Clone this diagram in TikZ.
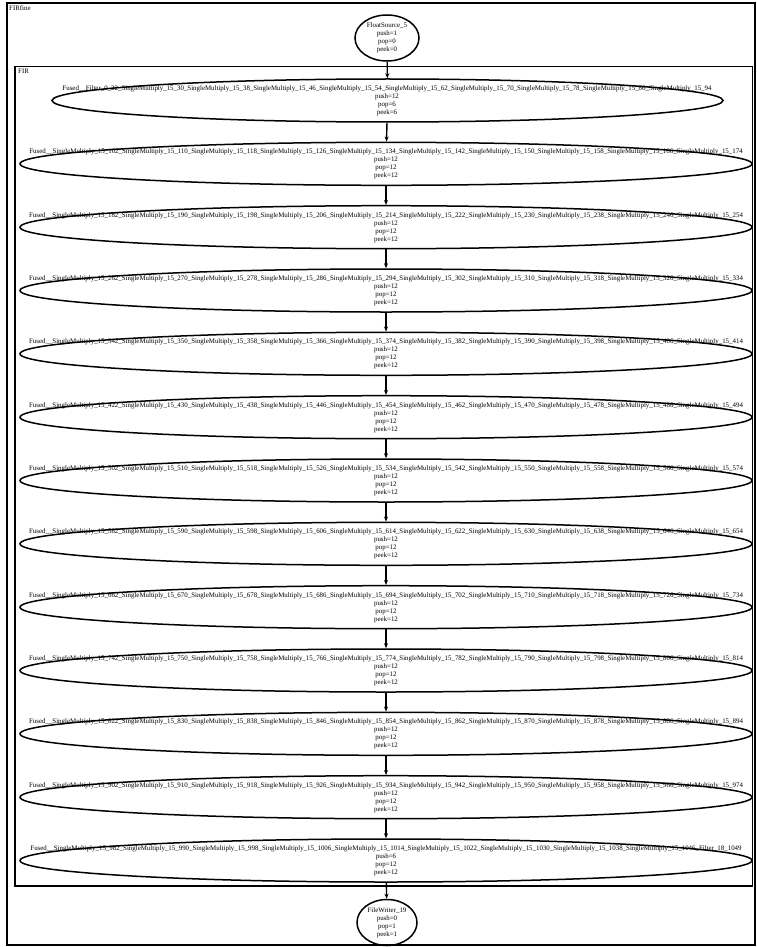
\documentclass[tikz,border=0pt]{standalone}
\usepackage{fontspec}
\setmainfont{Liberation Serif}
\usetikzlibrary{shapes.geometric,arrows.meta}
\newcommand\smx[1]{SingleMultiply\_15\_#1}
\begin{document}
\begin{tikzpicture}[x=1pt,y=-1pt,
  box/.style={draw, line width=1.2pt},
  oval/.style={draw, ellipse, line width=1.5pt, inner sep=0pt, minimum height=43pt, minimum width=732pt},
  lbl/.style={align=center, font=\fontsize{6.9}{8}\selectfont, inner sep=0pt},
  tag/.style={anchor=north west, font=\fontsize{6.9}{8}\selectfont, inner sep=0pt},
  flow/.style={-{Stealth[length=5pt,width=4pt]}, line width=1.4pt}]
\useasboundingbox (0,0) rectangle (756,947);
% clusters
\draw[box] (7,3) rectangle (755,945);
\node[tag] (tfine) at (9,5) {FIRfine};
\draw[box] (15,66.5) rectangle (752.5,886);
\node[tag] (tfir) at (18,69) {FIR};
% source
\node[oval, minimum width=64pt, minimum height=46pt] (src) at (387,38) {};
\node[lbl] (lsrc) at (387,38) {FloatSource\_5\\push=1\\pop=0\\peek=0};
% row 1
\node[oval, minimum width=671pt] (e1) at (387.5,100.5) {};
\node[lbl] at (387,101) {Fused\_\_Filter\_0\_22\_\smx{30}\_\smx{38}\_\smx{46}\_\smx{54}\_\smx{62}\_\smx{70}\_\smx{78}\_\smx{86}\_\smx{94}\\push=12\\pop=6\\peek=6};
% rows 2..12
\node[oval] (e2) at (386,163.8) {};
\node[lbl] at (386,164.3) {Fused\_\_\smx{102}\_\smx{110}\_\smx{118}\_\smx{126}\_\smx{134}\_\smx{142}\_\smx{150}\_\smx{158}\_\smx{166}\_\smx{174}\\push=12\\pop=12\\peek=12};
\node[oval] (e3) at (386,227.2) {};
\node[lbl] at (386,227.7) {Fused\_\_\smx{182}\_\smx{190}\_\smx{198}\_\smx{206}\_\smx{214}\_\smx{222}\_\smx{230}\_\smx{238}\_\smx{246}\_\smx{254}\\push=12\\pop=12\\peek=12};
\node[oval] (e4) at (386,290.5) {};
\node[lbl] at (386,291) {Fused\_\_\smx{262}\_\smx{270}\_\smx{278}\_\smx{286}\_\smx{294}\_\smx{302}\_\smx{310}\_\smx{318}\_\smx{326}\_\smx{334}\\push=12\\pop=12\\peek=12};
\node[oval] (e5) at (386,353.8) {};
\node[lbl] at (386,354.3) {Fused\_\_\smx{342}\_\smx{350}\_\smx{358}\_\smx{366}\_\smx{374}\_\smx{382}\_\smx{390}\_\smx{398}\_\smx{406}\_\smx{414}\\push=12\\pop=12\\peek=12};
\node[oval] (e6) at (386,417.2) {};
\node[lbl] at (386,417.7) {Fused\_\_\smx{422}\_\smx{430}\_\smx{438}\_\smx{446}\_\smx{454}\_\smx{462}\_\smx{470}\_\smx{478}\_\smx{486}\_\smx{494}\\push=12\\pop=12\\peek=12};
\node[oval] (e7) at (386,480.5) {};
\node[lbl] at (386,481) {Fused\_\_\smx{502}\_\smx{510}\_\smx{518}\_\smx{526}\_\smx{534}\_\smx{542}\_\smx{550}\_\smx{558}\_\smx{566}\_\smx{574}\\push=12\\pop=12\\peek=12};
\node[oval] (e8) at (386,543.8) {};
\node[lbl] at (386,544.3) {Fused\_\_\smx{582}\_\smx{590}\_\smx{598}\_\smx{606}\_\smx{614}\_\smx{622}\_\smx{630}\_\smx{638}\_\smx{646}\_\smx{654}\\push=12\\pop=12\\peek=12};
\node[oval] (e9) at (386,607.2) {};
\node[lbl] at (386,607.7) {Fused\_\_\smx{662}\_\smx{670}\_\smx{678}\_\smx{686}\_\smx{694}\_\smx{702}\_\smx{710}\_\smx{718}\_\smx{726}\_\smx{734}\\push=12\\pop=12\\peek=12};
\node[oval] (e10) at (386,670.5) {};
\node[lbl] at (386,671) {Fused\_\_\smx{742}\_\smx{750}\_\smx{758}\_\smx{766}\_\smx{774}\_\smx{782}\_\smx{790}\_\smx{798}\_\smx{806}\_\smx{814}\\push=12\\pop=12\\peek=12};
\node[oval] (e11) at (386,733.8) {};
\node[lbl] at (386,734.3) {Fused\_\_\smx{822}\_\smx{830}\_\smx{838}\_\smx{846}\_\smx{854}\_\smx{862}\_\smx{870}\_\smx{878}\_\smx{886}\_\smx{894}\\push=12\\pop=12\\peek=12};
\node[oval] (e12) at (386,797.2) {};
\node[lbl] at (386,797.7) {Fused\_\_\smx{902}\_\smx{910}\_\smx{918}\_\smx{926}\_\smx{934}\_\smx{942}\_\smx{950}\_\smx{958}\_\smx{966}\_\smx{974}\\push=12\\pop=12\\peek=12};
\node[oval] (e13) at (386,860.5) {};
\node[lbl] at (386,861) {Fused\_\_\smx{982}\_\smx{990}\_\smx{998}\_\smx{1006}\_\smx{1014}\_\smx{1022}\_\smx{1030}\_\smx{1038}\_\smx{1046}\_Filter\_18\_1049\\push=6\\pop=12\\peek=12};
% sink
\node[oval, minimum width=60pt, minimum height=46pt] (snk) at (387,922.5) {};
\node[lbl] (lsnk) at (387,922.5) {FileWriter\_19\\push=0\\pop=1\\peek=1};
% edges
\draw[flow] (src) -- (e1);
\draw[flow] (e1) -- (e2);
\draw[flow] (e2) -- (e3);
\draw[flow] (e3) -- (e4);
\draw[flow] (e4) -- (e5);
\draw[flow] (e5) -- (e6);
\draw[flow] (e6) -- (e7);
\draw[flow] (e7) -- (e8);
\draw[flow] (e8) -- (e9);
\draw[flow] (e9) -- (e10);
\draw[flow] (e10) -- (e11);
\draw[flow] (e11) -- (e12);
\draw[flow] (e12) -- (e13);
\draw[flow] (e13) -- (snk);
\end{tikzpicture}
\end{document}
